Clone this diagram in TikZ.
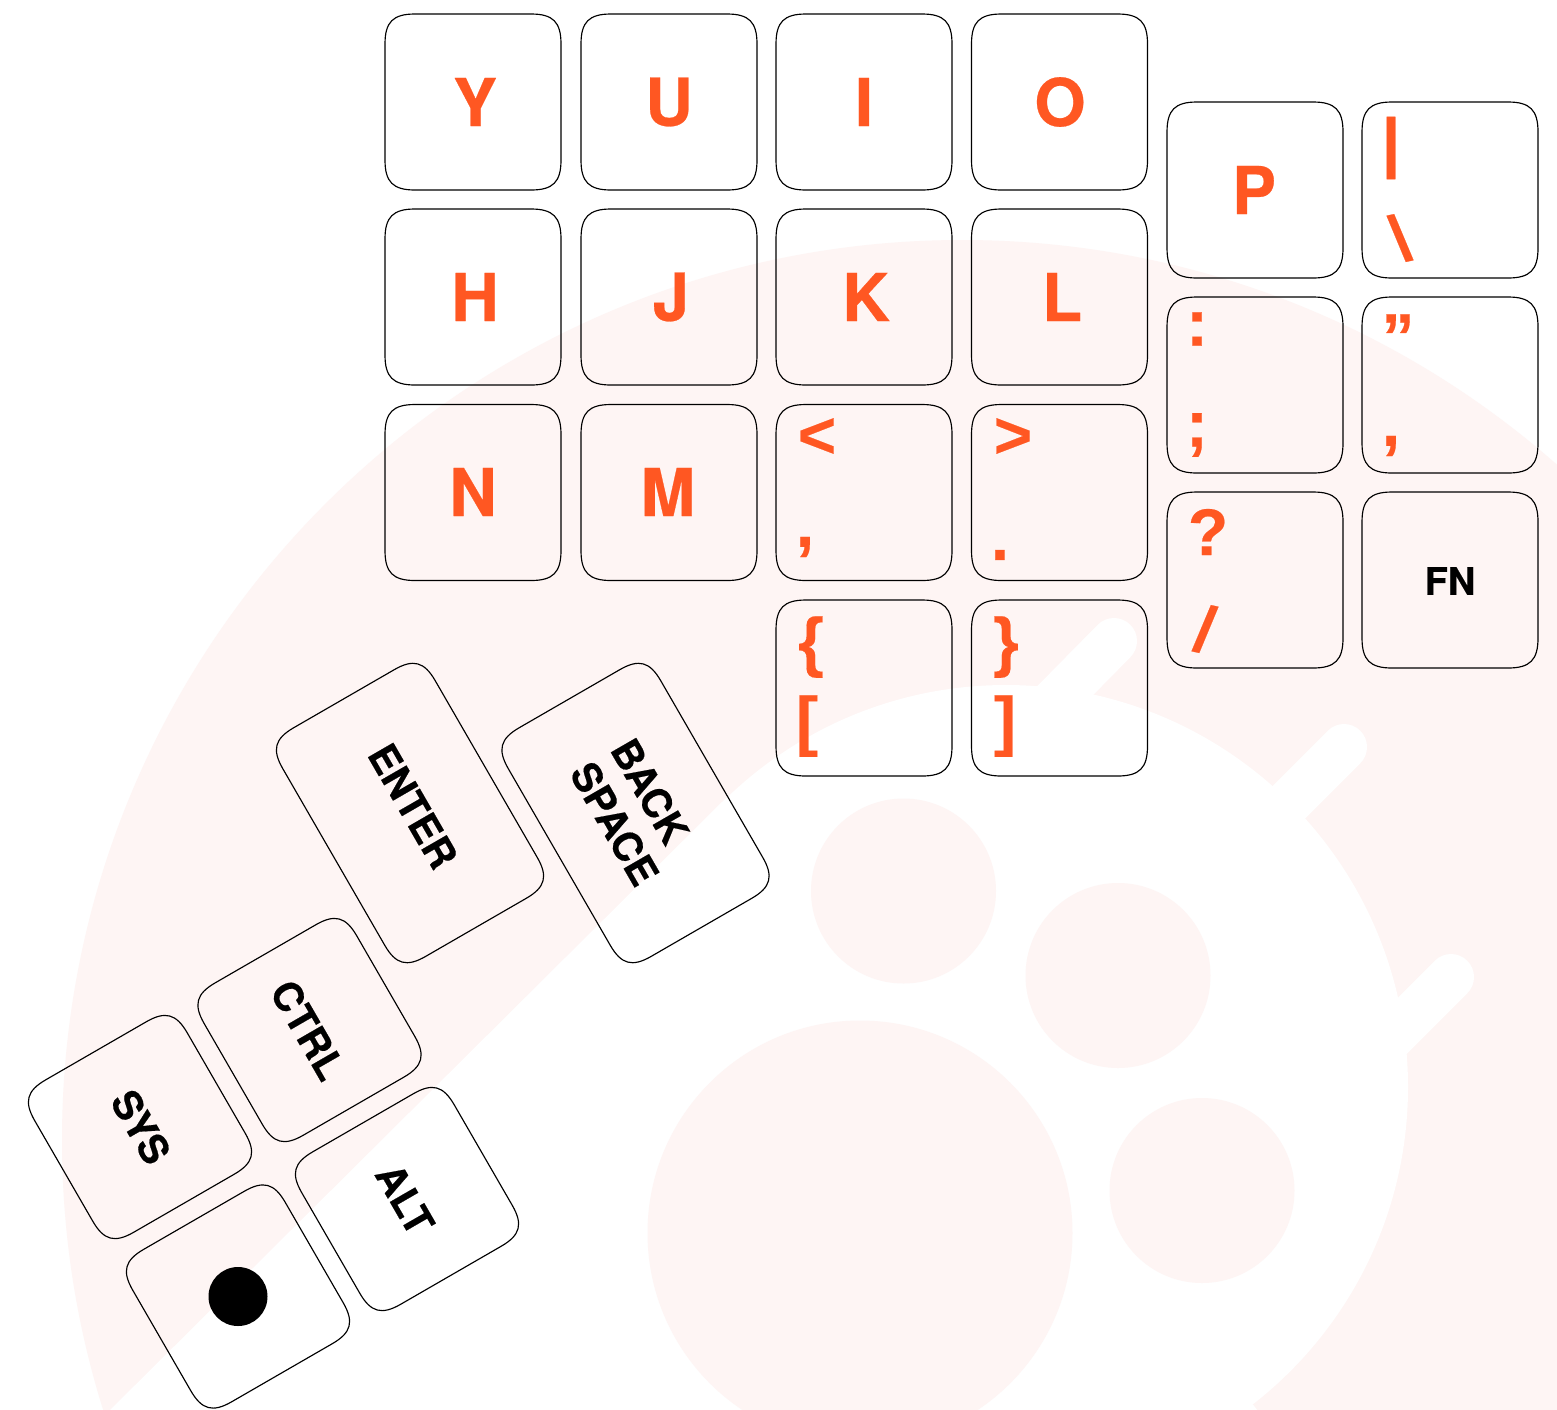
\documentclass[tikz,border=0pt]{standalone}
\usepackage{fontspec}
\setmainfont[BoldFeatures={FakeBold=0.4}]{TeX Gyre Heros}
\newfontfamily\symfont[BoldFeatures={FakeBold=0.3}]{Liberation Sans}
\definecolor{blush}{HTML}{FEF5F4}
\definecolor{accent}{HTML}{FF5722}
\tikzset{
  keyedge/.style={draw=black,line width=1.15pt},
  keyanchor/.style={inner sep=0pt,outer sep=0pt},
  keyletter/.style={inner sep=0pt,text=accent,font=\fontsize{66}{70}\selectfont\bfseries},
  keylegend/.style={inner sep=0pt,text=accent,font=\symfont\fontsize{66}{70}\selectfont\bfseries},
  keylabel/.style={inner sep=0pt,text=black,font=\fontsize{38}{46}\selectfont\bfseries},
  tiltlabel/.style={inner sep=0pt,text=black,font=\fontsize{40}{47}\selectfont\bfseries,rotate=-60},
  prong/.style={draw=white,line width=46pt,line cap=round},
  spot/.style={fill=blush},
}
% name, centre x, centre y, half width, half height, rotation
\newcommand\keycap[6]{%
  \begin{scope}[shift={(#2,#3)},rotate=#6]
    \pgfmathsetmacro\kW{#4}\pgfmathsetmacro\kH{#5}
    \def\ka{30}\def\kb{8}
    \node[keyanchor,minimum width=2*#4 pt,minimum height=2*#5 pt,rotate=#6] (#1) at (0,0) {};
    \draw[keyedge] (-\kW+\ka,-\kH) -- (\kW-\ka,-\kH)
      .. controls (\kW-\kb,-\kH) and (\kW,-\kH+\kb) .. (\kW,-\kH+\ka)
      -- (\kW,\kH-\ka)
      .. controls (\kW,\kH-\kb) and (\kW-\kb,\kH) .. (\kW-\ka,\kH)
      -- (-\kW+\ka,\kH)
      .. controls (-\kW+\kb,\kH) and (-\kW,\kH-\kb) .. (-\kW,\kH-\ka)
      -- (-\kW,-\kH+\ka)
      .. controls (-\kW,-\kH+\kb) and (-\kW+\kb,-\kH) .. (-\kW+\ka,-\kH) -- cycle;
  \end{scope}}
\begin{document}
\begin{tikzpicture}[x=1pt,y=-1pt]
\useasboundingbox (0,0) rectangle (1557,1409);
\begin{scope}
\clip (0,0) rectangle (1557,1409);
\fill[white] (0,0) rectangle (1557,1409);
\fill[blush] (962,1140) circle[radius=900pt];
\fill[white] (100,1420) -- (726,798) -- (1006,1087) -- (1265,1420) -- cycle;
\fill[white] (1006,1087) circle[radius=402pt];
\draw[prong] (1050,706) -- (1114,641);
\draw[prong] (1270,821) -- (1344,747);
\draw[prong] (1380,1048) -- (1451,977);
\fill[spot] (903.5,891) circle[radius=92.5pt];
\fill[spot] (1118,975.5) circle[radius=92.5pt];
\fill[spot] (1202,1190.5) circle[radius=92.5pt];
\fill[spot] (860,1233) circle[radius=212.5pt];
\end{scope}

\keycap{kY}{473}{102}{88}{88}{0}
\keycap{kU}{669}{102}{88}{88}{0}
\keycap{kI}{864}{102}{88}{88}{0}
\keycap{kO}{1059.5}{102}{88}{88}{0}
\keycap{kH}{473}{297}{88}{88}{0}
\keycap{kJ}{669}{297}{88}{88}{0}
\keycap{kK}{864}{297}{88}{88}{0}
\keycap{kL}{1059.5}{297}{88}{88}{0}
\keycap{kN}{473}{492.5}{88}{88}{0}
\keycap{kM}{669}{492.5}{88}{88}{0}
\keycap{kLt}{864}{492.5}{88}{88}{0}
\keycap{kGt}{1059.5}{492.5}{88}{88}{0}
\keycap{kBrL}{864}{688}{88}{88}{0}
\keycap{kBrR}{1059.5}{688}{88}{88}{0}
\keycap{kP}{1255}{190}{88}{88}{0}
\keycap{kBar}{1450}{190}{88}{88}{0}
\keycap{kCol}{1255}{385}{88}{88}{0}
\keycap{kQuo}{1450}{385}{88}{88}{0}
\keycap{kQue}{1255}{580}{88}{88}{0}
\keycap{kFn}{1450}{580}{88}{88}{0}
\keycap{kEnter}{410}{813}{88}{132}{30}
\keycap{kBack}{635.5}{813}{88}{132}{30}
\keycap{kCtrl}{309.5}{1030}{88}{88}{30}
\keycap{kSys}{140}{1127}{88}{88}{30}
\keycap{kDot}{238}{1296.5}{88}{88}{30}
\keycap{kAlt}{407}{1199}{88}{88}{30}

\node[keyletter] (tY) at (475,102) {Y};
\node[keyletter] (tU) at (669,102) {U};
\node[keyletter] (tI) at (864,102) {I};
\node[keyletter] (tO) at (1060,102) {O};
\node[keyletter] (tH) at (475,297) {H};
\node[keyletter] (tJ) at (671,297) {J};
\node[keyletter] (tK) at (866,297) {K};
\node[keyletter] (tL) at (1062,297) {L};
\node[keyletter] (tN) at (473,492) {N};
\node[keyletter] (tM) at (668,492) {M};
\node[keyletter] (tP) at (1254,190) {P};

\node[keylegend] (tLt) at (817,438) {<};
\node[keylegend] (tComma) at (805,547) {,};
\node[keylegend] (tGt) at (1013,438) {>};
\node[keylegend] (tDot) at (1000,555) {.};
\node[keylegend] (tCurlL) at (811,647) {\{};
\node[keylegend] (tSqL) at (807,726) {[};
\node[keylegend] (tCurlR) at (1006,647) {\}};
\node[keylegend] (tSqR) at (1005,726) {]};
\node[keylegend] (tColon) at (1197,329) {:};
\node[keylegend] (tSemi) at (1197,435) {;};
\node[keylegend] (tQuote) at (1398,337) {”};
\node[keylegend] (tApos) at (1391,446) {,};
\node[keylegend] (tBar) at (1391,148) {|};
\node[keylegend,rotate=12] (tBack) at (1400,238) {\textbackslash};
\node[keylegend] (tQue) at (1208,532) {?};
\node[keylegend,rotate=-12] (tSlash) at (1205,629) {/};
\node[keylabel] (tFn) at (1450,581) {FN};

\node[tiltlabel] (tEnter) at (413,806) {ENTER};
\node[tiltlabel,align=left] (tBackspace) at (635,812) {BACK\\SPACE};
\node[tiltlabel] (tCtrl) at (308,1030) {CTRL};
\node[tiltlabel] (tSys) at (141,1127) {SYS};
\node[tiltlabel] (tAlt) at (405,1199) {ALT};
\node[circle,fill=black,inner sep=0pt,minimum size=59pt] (tDotMark) at (kDot) {};
\end{tikzpicture}
\end{document}
